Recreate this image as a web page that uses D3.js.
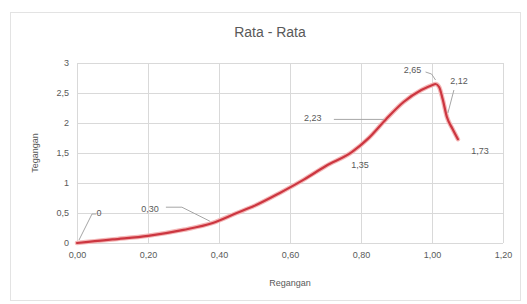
<!DOCTYPE html>
<html><head><meta charset="utf-8">
<script src="https://cdn.jsdelivr.net/npm/d3@7"></script>
<style>body{margin:0;background:#fff;}svg{display:block;font-family:"Liberation Sans","DejaVu Sans",sans-serif;}</style>
</head><body><div id="c"></div>
<script>
const strain = [0,0.05,0.1,0.2,0.3,0.38,0.45,0.5,0.57,0.64,0.7,0.775,0.82,0.87,0.92,0.97,1.0,1.01,1.02,1.03,1.042,1.058,1.073];
const stress = [0,0.03,0.06,0.12,0.22,0.33,0.5,0.62,0.83,1.06,1.28,1.52,1.74,2.06,2.35,2.55,2.63,2.65,2.6,2.4,2.1,1.9,1.73];
const xTicks = [0,0.2,0.4,0.6,0.8,1.0,1.2];
const yTicks = [0,0.5,1,1.5,2,2.5,3];
const labelText = ["0","0,30","1,35","2,23","2,65","2,12","1,73"];
const labelIndex = [0,5,11,13,17,20,22];
const title = "Rata - Rata";
const xTitle = "Regangan";
const yTitle = "Tegangan";

const W=527,H=304;
const svg=d3.select("#c").append("svg").attr("width",W).attr("height",H);
svg.append("rect").attr("x",10.5).attr("y",12.5).attr("width",510).attr("height",288).attr("fill","#fff").attr("stroke","#e3e3e3");
const x=d3.scaleLinear().domain([0,1.2]).range([77,503]);
const y=d3.scaleLinear().domain([0,3]).range([243,63]);
const fmtX=d=>d3.format(".2f")(d).replace(".",",");
const fmtY=d=>String(d).replace(".",",");
const g=svg.append("g");
g.selectAll(".gy").data(yTicks).join("line").attr("x1",x(0)).attr("x2",x(1.2)).attr("y1",d=>y(d)+0.5).attr("y2",d=>y(d)+0.5).attr("stroke","#d9d9d9");
g.selectAll(".gx").data(xTicks).join("line").attr("y1",y(0)).attr("y2",y(3)).attr("x1",d=>x(d)+0.5).attr("x2",d=>x(d)+0.5).attr("stroke","#d9d9d9");
const xa=d3.axisBottom(x).tickValues(xTicks).tickFormat(fmtX).tickSize(0).tickPadding(9);
const ya=d3.axisLeft(y).tickValues(yTicks).tickFormat(fmtY).tickSize(0).tickPadding(8);
const gx=svg.append("g").attr("transform",`translate(0,${y(0)})`).call(xa);
const gy=svg.append("g").attr("transform",`translate(${x(0)},0)`).call(ya);
[gx,gy].forEach(a=>{a.select(".domain").remove();a.selectAll("text").attr("fill","#595959").style("font-size","9px").style("font-family","Liberation Sans, sans-serif");});
svg.append("text").attr("x",270).attr("y",37).attr("text-anchor","middle").attr("fill","#595959").style("font-size","14px").text(title);
svg.append("text").attr("x",290).attr("y",286).attr("text-anchor","middle").attr("fill","#595959").style("font-size","9px").text(xTitle);
svg.append("text").attr("transform","translate(38,153) rotate(-90)").attr("text-anchor","middle").attr("fill","#595959").style("font-size","9px").text(yTitle);
const pts=strain.map((s,i)=>[s,stress[i]]);
const line=d3.line().x(d=>x(d[0])).y(d=>y(d[1])).curve(d3.curveMonotoneX);
svg.append("path").datum(pts).attr("d",line).attr("fill","none").attr("stroke","#f4b8b8").attr("stroke-width",4.5).attr("stroke-linecap","round");
svg.append("path").datum(pts).attr("d",line).attr("fill","none").attr("stroke","#cc3640").attr("stroke-width",2.2).attr("stroke-linecap","round");
const lblOff=[[22,-30],[-62,-14],[8,13],[-73,-2],[-23,-14],[12,-36],[22,12]];
const leaders=[
  [[2,-3],[15,-29],[19,-29]],
  [[-2,-2],[-30,-16],[-46,-16]],
  null,
  [[-2,0],[-52,0]],
  [[0,-4],[-4,-10],[-10,-12]],
  [[1,-4],[7,-27]],
  null
];
labelIndex.forEach((idx,k)=>{
  const px=x(strain[idx]),py=y(stress[idx]);
  if(leaders[k]){
    svg.append("polyline").attr("points",leaders[k].map(o=>[px+o[0],py+o[1]].join(",")).join(" ")).attr("fill","none").attr("stroke","#a6a6a6").attr("stroke-width",1);
  }
  svg.append("text").attr("x",px+lblOff[k][0]).attr("y",py+lblOff[k][1]).attr("dy","0.35em").attr("text-anchor","middle").attr("fill","#595959").style("font-size","9px").text(labelText[k]);
});
</script></body></html>
